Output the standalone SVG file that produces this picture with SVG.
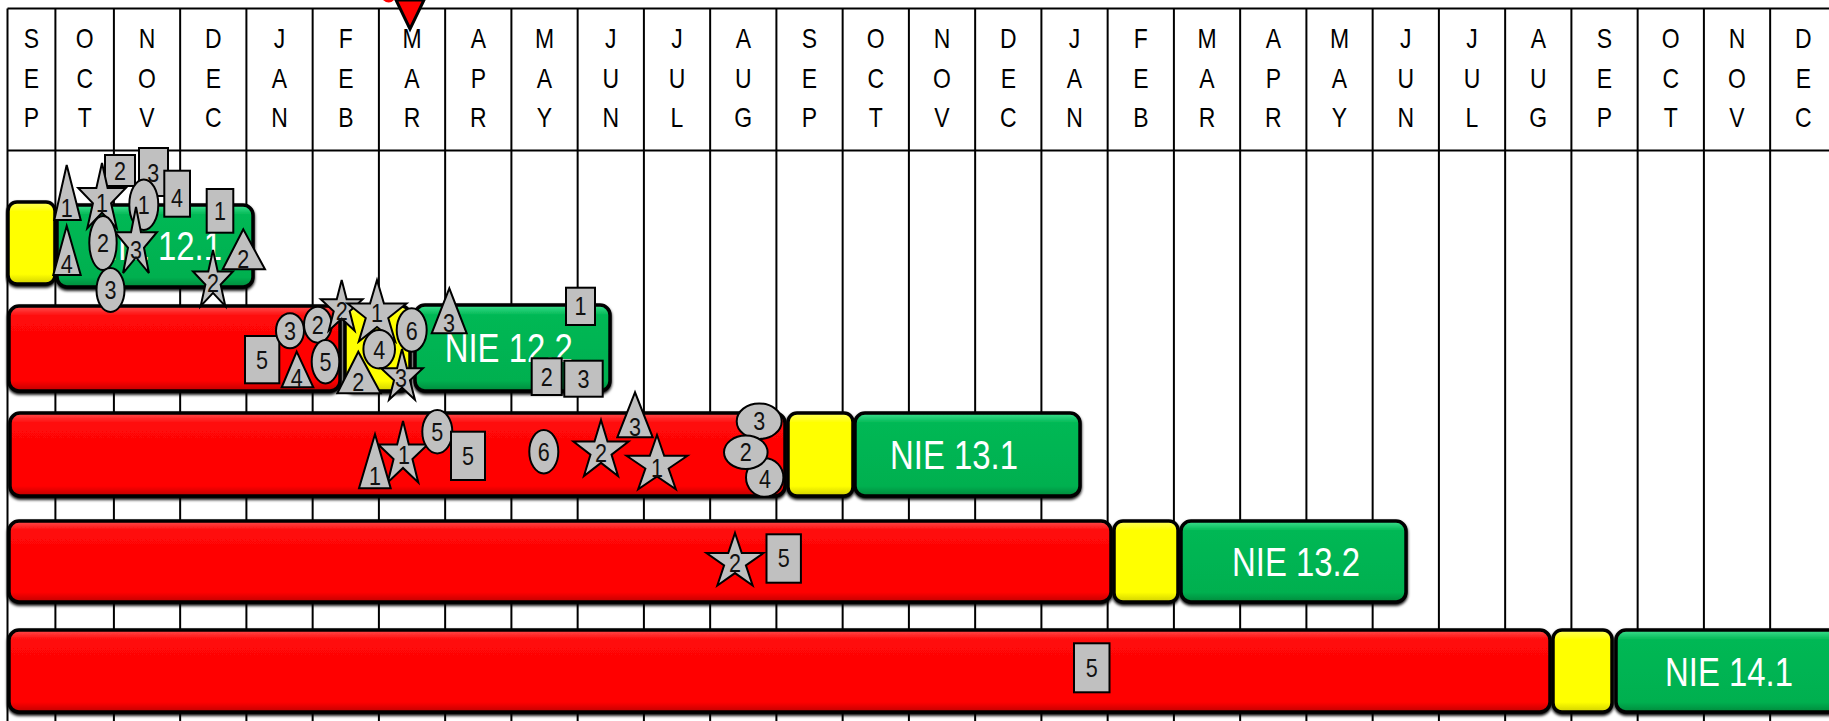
<svg xmlns="http://www.w3.org/2000/svg" xmlns:xlink="http://www.w3.org/1999/xlink" width="1829" height="721" viewBox="0 0 1829 721">
<style>
.grid{stroke:#000;stroke-width:2;fill:none}
.m{font-family:"Liberation Sans",Arial,sans-serif;font-size:28px;text-anchor:middle;fill:#000}
.bt{font-family:"Liberation Sans",Arial,sans-serif;font-size:40px;text-anchor:middle;fill:#fff}
.l{font-family:"Liberation Sans",Arial,sans-serif;font-size:26px;text-anchor:middle;fill:#111}
.mk{fill:#c0c0c0;stroke:#000;stroke-width:2}
.bar{stroke:#000;stroke-width:3.5;filter:url(#sh)}
.red{fill:url(#gr)}
.yel{fill:url(#gy)}
.grn{fill:url(#gg)}
</style>
<defs>
<linearGradient id="gr" x1="0" y1="0" x2="0" y2="1">
<stop offset="0" stop-color="#ff5050"/><stop offset="0.12" stop-color="#ff0808"/><stop offset="0.88" stop-color="#ff0000"/><stop offset="1" stop-color="#c00000"/>
</linearGradient>
<linearGradient id="gy" x1="0" y1="0" x2="0" y2="1">
<stop offset="0" stop-color="#ffff60"/><stop offset="0.12" stop-color="#ffff00"/><stop offset="0.88" stop-color="#ffff00"/><stop offset="1" stop-color="#d0d000"/>
</linearGradient>
<linearGradient id="gg" x1="0" y1="0" x2="0" y2="1">
<stop offset="0" stop-color="#40e090"/><stop offset="0.12" stop-color="#00b854"/><stop offset="0.88" stop-color="#00b050"/><stop offset="1" stop-color="#008a3c"/>
</linearGradient>
<filter id="sh" x="-5%" y="-10%" width="110%" height="125%">
<feGaussianBlur in="SourceAlpha" stdDeviation="1.5"/>
<feOffset dx="0" dy="1.5" result="b"/>
<feMerge><feMergeNode in="b"/><feMergeNode in="SourceGraphic"/></feMerge>
</filter>
<polygon id="star" points="0,-1 0.2245,-0.309 0.951,-0.309 0.363,0.118 0.588,0.809 0,0.382 -0.588,0.809 -0.363,0.118 -0.951,-0.309 -0.2245,-0.309" vector-effect="non-scaling-stroke"/>
</defs>
<rect width="1829" height="721" fill="#fff"/>
<g id="grid" class="grid">
<line x1="7.5" y1="8.5" x2="1829" y2="8.5"/>
<line x1="7.5" y1="150.5" x2="1829" y2="150.5"/>
<line x1="7.5" y1="8.5" x2="7.5" y2="721"/>
<line x1="55.4" y1="8.5" x2="55.4" y2="721"/>
<line x1="113.9" y1="8.5" x2="113.9" y2="721"/>
<line x1="180.15" y1="8.5" x2="180.15" y2="721"/>
<line x1="246.4" y1="8.5" x2="246.4" y2="721"/>
<line x1="312.65" y1="8.5" x2="312.65" y2="721"/>
<line x1="378.9" y1="8.5" x2="378.9" y2="721"/>
<line x1="445.15" y1="8.5" x2="445.15" y2="721"/>
<line x1="511.4" y1="8.5" x2="511.4" y2="721"/>
<line x1="577.65" y1="8.5" x2="577.65" y2="721"/>
<line x1="643.9" y1="8.5" x2="643.9" y2="721"/>
<line x1="710.15" y1="8.5" x2="710.15" y2="721"/>
<line x1="776.4" y1="8.5" x2="776.4" y2="721"/>
<line x1="842.65" y1="8.5" x2="842.65" y2="721"/>
<line x1="908.9" y1="8.5" x2="908.9" y2="721"/>
<line x1="975.15" y1="8.5" x2="975.15" y2="721"/>
<line x1="1041.4" y1="8.5" x2="1041.4" y2="721"/>
<line x1="1107.65" y1="8.5" x2="1107.65" y2="721"/>
<line x1="1173.9" y1="8.5" x2="1173.9" y2="721"/>
<line x1="1240.15" y1="8.5" x2="1240.15" y2="721"/>
<line x1="1306.4" y1="8.5" x2="1306.4" y2="721"/>
<line x1="1372.65" y1="8.5" x2="1372.65" y2="721"/>
<line x1="1438.9" y1="8.5" x2="1438.9" y2="721"/>
<line x1="1505.15" y1="8.5" x2="1505.15" y2="721"/>
<line x1="1571.4" y1="8.5" x2="1571.4" y2="721"/>
<line x1="1637.65" y1="8.5" x2="1637.65" y2="721"/>
<line x1="1703.9" y1="8.5" x2="1703.9" y2="721"/>
<line x1="1770.15" y1="8.5" x2="1770.15" y2="721"/>
</g>
<g id="months" class="m" transform="scale(0.82,1)">
<text x="38.41" y="48">S<tspan x="38.41" y="88">E</tspan><tspan x="38.41" y="127">P</tspan></text>
<text x="103.29" y="48">O<tspan x="103.29" y="88">C</tspan><tspan x="103.29" y="127">T</tspan></text>
<text x="179.27" y="48">N<tspan x="179.27" y="88">O</tspan><tspan x="179.27" y="127">V</tspan></text>
<text x="260.12" y="48">D<tspan x="260.12" y="88">E</tspan><tspan x="260.12" y="127">C</tspan></text>
<text x="340.85" y="48">J<tspan x="340.85" y="88">A</tspan><tspan x="340.85" y="127">N</tspan></text>
<text x="421.71" y="48">F<tspan x="421.71" y="88">E</tspan><tspan x="421.71" y="127">B</tspan></text>
<text x="502.44" y="48">M<tspan x="502.44" y="88">A</tspan><tspan x="502.44" y="127">R</tspan></text>
<text x="583.29" y="48">A<tspan x="583.29" y="88">P</tspan><tspan x="583.29" y="127">R</tspan></text>
<text x="664.02" y="48">M<tspan x="664.02" y="88">A</tspan><tspan x="664.02" y="127">Y</tspan></text>
<text x="744.88" y="48">J<tspan x="744.88" y="88">U</tspan><tspan x="744.88" y="127">N</tspan></text>
<text x="825.61" y="48">J<tspan x="825.61" y="88">U</tspan><tspan x="825.61" y="127">L</tspan></text>
<text x="906.46" y="48">A<tspan x="906.46" y="88">U</tspan><tspan x="906.46" y="127">G</tspan></text>
<text x="987.2" y="48">S<tspan x="987.2" y="88">E</tspan><tspan x="987.2" y="127">P</tspan></text>
<text x="1068.05" y="48">O<tspan x="1068.05" y="88">C</tspan><tspan x="1068.05" y="127">T</tspan></text>
<text x="1148.78" y="48">N<tspan x="1148.78" y="88">O</tspan><tspan x="1148.78" y="127">V</tspan></text>
<text x="1229.63" y="48">D<tspan x="1229.63" y="88">E</tspan><tspan x="1229.63" y="127">C</tspan></text>
<text x="1310.37" y="48">J<tspan x="1310.37" y="88">A</tspan><tspan x="1310.37" y="127">N</tspan></text>
<text x="1391.22" y="48">F<tspan x="1391.22" y="88">E</tspan><tspan x="1391.22" y="127">B</tspan></text>
<text x="1471.95" y="48">M<tspan x="1471.95" y="88">A</tspan><tspan x="1471.95" y="127">R</tspan></text>
<text x="1552.8" y="48">A<tspan x="1552.8" y="88">P</tspan><tspan x="1552.8" y="127">R</tspan></text>
<text x="1633.54" y="48">M<tspan x="1633.54" y="88">A</tspan><tspan x="1633.54" y="127">Y</tspan></text>
<text x="1714.39" y="48">J<tspan x="1714.39" y="88">U</tspan><tspan x="1714.39" y="127">N</tspan></text>
<text x="1795.12" y="48">J<tspan x="1795.12" y="88">U</tspan><tspan x="1795.12" y="127">L</tspan></text>
<text x="1875.98" y="48">A<tspan x="1875.98" y="88">U</tspan><tspan x="1875.98" y="127">G</tspan></text>
<text x="1956.71" y="48">S<tspan x="1956.71" y="88">E</tspan><tspan x="1956.71" y="127">P</tspan></text>
<text x="2037.56" y="48">O<tspan x="2037.56" y="88">C</tspan><tspan x="2037.56" y="127">T</tspan></text>
<text x="2118.29" y="48">N<tspan x="2118.29" y="88">O</tspan><tspan x="2118.29" y="127">V</tspan></text>
<text x="2199.15" y="48">D<tspan x="2199.15" y="88">E</tspan><tspan x="2199.15" y="127">C</tspan></text>
</g>
<g id="now-marker">
<path d="M383,0 Q389,5 394,0 Z" fill="#ff0000"/>
<polygon points="396,0 424,0 410,29" fill="#ff0000" stroke="#000" stroke-width="3" stroke-linejoin="miter"/>
</g>
<g id="bars">
<g id="nie121"><rect class="bar yel" x="8" y="202" width="47" height="82" rx="9"/><rect class="bar grn" x="57" y="205" width="196" height="82" rx="10"/><text class="bt" x="158" y="260" textLength="128" lengthAdjust="spacingAndGlyphs">NIE 12.1</text></g>
<g id="nie122"><rect class="bar red" x="9" y="306" width="331" height="85" rx="10"/><rect class="bar yel" x="345" y="306" width="65" height="85" rx="9"/><rect class="bar grn" x="415" y="305" width="195" height="86" rx="10"/><text class="bt" x="508.7" y="362" textLength="128" lengthAdjust="spacingAndGlyphs">NIE 12.2</text></g>
<g id="nie131"><rect class="bar red" x="10" y="413" width="775" height="83" rx="10"/><rect class="bar yel" x="788" y="413" width="65" height="83" rx="9"/><rect class="bar grn" x="855" y="413" width="225" height="83" rx="10"/><text class="bt" x="954" y="469" textLength="128" lengthAdjust="spacingAndGlyphs">NIE 13.1</text></g>
<g id="nie132"><rect class="bar red" x="9" y="521" width="1102" height="81" rx="10"/><rect class="bar yel" x="1114" y="521" width="64" height="81" rx="9"/><rect class="bar grn" x="1181" y="521" width="225" height="81" rx="10"/><text class="bt" x="1296" y="576" textLength="128" lengthAdjust="spacingAndGlyphs">NIE 13.2</text></g>
<g id="nie141"><rect class="bar red" x="9" y="630" width="1541" height="82" rx="10"/><rect class="bar yel" x="1553" y="630" width="59" height="82" rx="9"/><rect class="bar grn" x="1616" y="630" width="240" height="82" rx="10"/><text class="bt" x="1729" y="686" textLength="128" lengthAdjust="spacingAndGlyphs">NIE 14.1</text></g>
</g>
<g id="markers-row1">
<g id="r1-rect2"><rect class="mk" x="105" y="155" width="30" height="31"/><text class="l" x="120" y="180" textLength="12" lengthAdjust="spacingAndGlyphs">2</text></g>
<g id="r1-tri1"><polygon class="mk" points="66.7,165 54.3,220 80.7,220"/><text class="l" x="66.7" y="217" textLength="12" lengthAdjust="spacingAndGlyphs">1</text></g>
<g id="r1-star1"><use href="#star" class="mk" transform="translate(102,199) scale(25,36)"/><text class="l" x="102" y="212" textLength="12" lengthAdjust="spacingAndGlyphs">1</text></g>
<g id="r1-rect3"><rect class="mk" x="139" y="148" width="29" height="48"/><text class="l" x="153.3" y="182" textLength="12" lengthAdjust="spacingAndGlyphs">3</text></g>
<g id="r1-rect4"><rect class="mk" x="164.3" y="170.7" width="25.7" height="46"/><text class="l" x="177" y="207" textLength="12" lengthAdjust="spacingAndGlyphs">4</text></g>
<g id="r1-ell1"><ellipse class="mk" cx="143.8" cy="204.7" rx="14.5" ry="25.3"/><text class="l" x="143.8" y="214" textLength="12" lengthAdjust="spacingAndGlyphs">1</text></g>
<g id="r1-rect1"><rect class="mk" x="206.7" y="189" width="26.6" height="43.7"/><text class="l" x="220" y="220" textLength="12" lengthAdjust="spacingAndGlyphs">1</text></g>
<g id="r1-tri4"><polygon class="mk" points="66.7,226 53.3,275 80.7,275"/><text class="l" x="66.7" y="273" textLength="12" lengthAdjust="spacingAndGlyphs">4</text></g>
<g id="r1-star3"><use href="#star" class="mk" transform="translate(136,243.5) scale(22,36.5)"/><text class="l" x="136" y="259" textLength="12" lengthAdjust="spacingAndGlyphs">3</text></g>
<g id="r1-ell2"><ellipse class="mk" cx="103" cy="243" rx="13.7" ry="27"/><text class="l" x="103" y="252" textLength="12" lengthAdjust="spacingAndGlyphs">2</text></g>
<g id="r1-ell3"><ellipse class="mk" cx="110.5" cy="290" rx="14" ry="22"/><text class="l" x="110.5" y="299" textLength="12" lengthAdjust="spacingAndGlyphs">3</text></g>
<g id="r1-star2"><use href="#star" class="mk" transform="translate(213,281) scale(21,31)"/><text class="l" x="213" y="292" textLength="12" lengthAdjust="spacingAndGlyphs">2</text></g>
<g id="r1-tri2"><polygon class="mk" points="243.3,229.3 222.7,269.3 265,269.3"/><text class="l" x="243.3" y="268" textLength="12" lengthAdjust="spacingAndGlyphs">2</text></g>
</g>
<g id="markers-row2">
<g id="r2-rect5"><rect class="mk" x="245" y="336" width="34.3" height="47.3"/><text class="l" x="262" y="369" textLength="12" lengthAdjust="spacingAndGlyphs">5</text></g>
<g id="r2-tri4"><polygon class="mk" points="296.7,351.7 281.7,387.3 313.3,387.3"/><text class="l" x="296.7" y="387" textLength="12" lengthAdjust="spacingAndGlyphs">4</text></g>
<g id="r2-ell3"><ellipse class="mk" cx="290" cy="330.8" rx="14" ry="17.5"/><text class="l" x="290" y="340" textLength="12" lengthAdjust="spacingAndGlyphs">3</text></g>
<g id="r2-ell2"><ellipse class="mk" cx="317.8" cy="324.7" rx="13.8" ry="18"/><text class="l" x="317.8" y="334" textLength="12" lengthAdjust="spacingAndGlyphs">2</text></g>
<g id="r2-ell5"><ellipse class="mk" cx="325.5" cy="361.7" rx="13.8" ry="21.7"/><text class="l" x="325.5" y="371" textLength="12" lengthAdjust="spacingAndGlyphs">5</text></g>
<g id="r2-star2"><use href="#star" class="mk" transform="translate(341.7,308) scale(22,28)"/><text class="l" x="341.7" y="320" textLength="12" lengthAdjust="spacingAndGlyphs">2</text></g>
<g id="r2-star1"><use href="#star" class="mk" transform="translate(377,314) scale(31,34)"/><text class="l" x="377" y="322" textLength="12" lengthAdjust="spacingAndGlyphs">1</text></g>
<g id="r2-ell4"><ellipse class="mk" cx="379.2" cy="349.2" rx="15.8" ry="19.2"/><text class="l" x="379.2" y="359" textLength="12" lengthAdjust="spacingAndGlyphs">4</text></g>
<g id="r2-ell6"><ellipse class="mk" cx="411.7" cy="330" rx="15" ry="21.7"/><text class="l" x="411.7" y="340" textLength="12" lengthAdjust="spacingAndGlyphs">6</text></g>
<g id="r2-tri2"><polygon class="mk" points="358.3,351.7 337.3,393.3 380.7,393.3"/><text class="l" x="358.3" y="391" textLength="12" lengthAdjust="spacingAndGlyphs">2</text></g>
<g id="r2-star3"><use href="#star" class="mk" transform="translate(402,377) scale(22,28)"/><text class="l" x="401" y="387" textLength="12" lengthAdjust="spacingAndGlyphs">3</text></g>
<g id="r2-tri3"><polygon class="mk" points="449.3,288.3 431.7,333.3 466.7,333.3"/><text class="l" x="449" y="332" textLength="12" lengthAdjust="spacingAndGlyphs">3</text></g>
<g id="r2-rect1"><rect class="mk" x="566" y="287.7" width="29" height="37.3"/><text class="l" x="580.5" y="315" textLength="12" lengthAdjust="spacingAndGlyphs">1</text></g>
<g id="r2-rect2"><rect class="mk" x="531.7" y="358.3" width="30" height="36.7"/><text class="l" x="546.7" y="386" textLength="12" lengthAdjust="spacingAndGlyphs">2</text></g>
<g id="r2-rect3"><rect class="mk" x="564.3" y="360.7" width="38.4" height="36"/><text class="l" x="583.5" y="388" textLength="12" lengthAdjust="spacingAndGlyphs">3</text></g>
</g>
<g id="markers-row3">
<g id="r3-star1a"><use href="#star" class="mk" transform="translate(403,455) scale(26,34)"/><text class="l" x="404" y="464" textLength="12" lengthAdjust="spacingAndGlyphs">1</text></g>
<g id="r3-tri1"><polygon class="mk" points="375,434.3 359,488.3 390.7,488.3"/><text class="l" x="375" y="485" textLength="12" lengthAdjust="spacingAndGlyphs">1</text></g>
<g id="r3-ell5"><ellipse class="mk" cx="437.3" cy="431.7" rx="15" ry="21.7"/><text class="l" x="437.3" y="441" textLength="12" lengthAdjust="spacingAndGlyphs">5</text></g>
<g id="r3-rect5"><rect class="mk" x="451" y="431.7" width="34" height="48.3"/><text class="l" x="468" y="465" textLength="12" lengthAdjust="spacingAndGlyphs">5</text></g>
<g id="r3-ell6"><ellipse class="mk" cx="543.8" cy="451.7" rx="14.5" ry="21.7"/><text class="l" x="543.8" y="461" textLength="12" lengthAdjust="spacingAndGlyphs">6</text></g>
<g id="r3-star2"><use href="#star" class="mk" transform="translate(601,451) scale(29,31)"/><text class="l" x="601" y="462" textLength="12" lengthAdjust="spacingAndGlyphs">2</text></g>
<g id="r3-tri3"><polygon class="mk" points="635,392.3 617.3,437.3 652.7,437.3"/><text class="l" x="635" y="436" textLength="12" lengthAdjust="spacingAndGlyphs">3</text></g>
<g id="r3-star1b"><use href="#star" class="mk" transform="translate(657,465) scale(32,30)"/><text class="l" x="657" y="477" textLength="12" lengthAdjust="spacingAndGlyphs">1</text></g>
<g id="r3-ell3"><ellipse class="mk" cx="759.2" cy="421.2" rx="22.5" ry="17.8"/><text class="l" x="759.2" y="430" textLength="12" lengthAdjust="spacingAndGlyphs">3</text></g>
<g id="r3-ell4"><ellipse class="mk" cx="764.7" cy="477.5" rx="18.7" ry="19.2"/><text class="l" x="765" y="488" textLength="12" lengthAdjust="spacingAndGlyphs">4</text></g>
<g id="r3-ell2"><ellipse class="mk" cx="745.8" cy="452.3" rx="21.8" ry="16.7"/><text class="l" x="745.8" y="461" textLength="12" lengthAdjust="spacingAndGlyphs">2</text></g>
</g>
<g id="markers-row4">
<g id="r4-star2"><use href="#star" class="mk" transform="translate(735,562) scale(30,29)"/><text class="l" x="735" y="572" textLength="12" lengthAdjust="spacingAndGlyphs">2</text></g>
<g id="r4-rect5"><rect class="mk" x="766.5" y="534.3" width="34.4" height="48.4"/><text class="l" x="783.7" y="567" textLength="12" lengthAdjust="spacingAndGlyphs">5</text></g>
</g>
<g id="markers-row5">
<g id="r5-rect5"><rect class="mk" x="1074" y="643.3" width="35.5" height="49"/><text class="l" x="1091.8" y="677" textLength="12" lengthAdjust="spacingAndGlyphs">5</text></g>
</g>
<g id="connectors"/>
</svg>
